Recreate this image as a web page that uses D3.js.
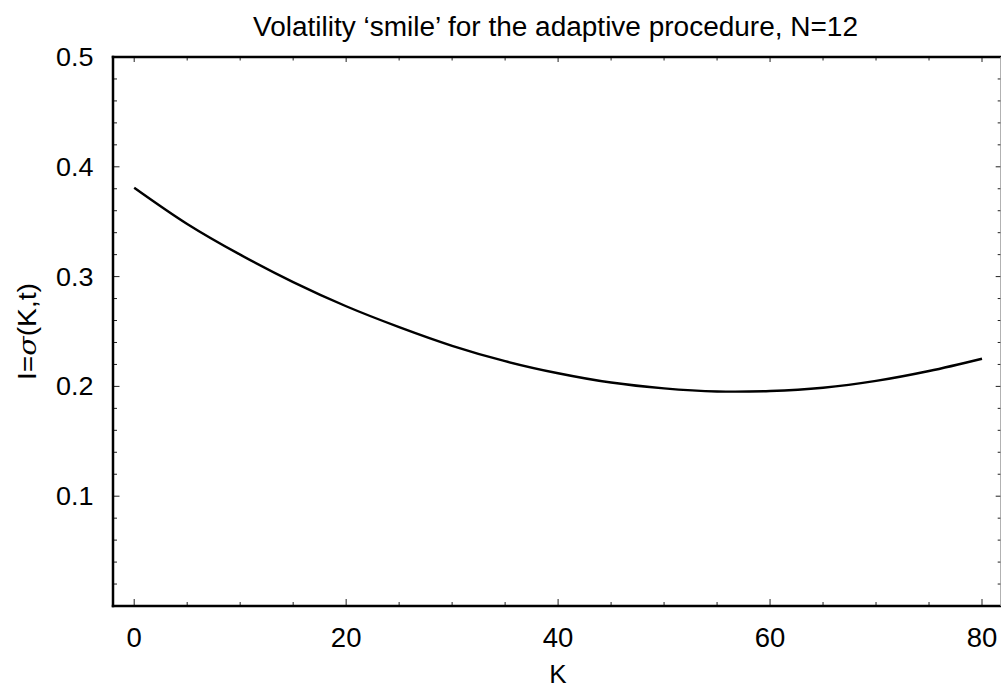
<!DOCTYPE html>
<html>
<head>
<meta charset="utf-8">
<script src="https://cdn.jsdelivr.net/npm/d3@7/dist/d3.min.js"></script>
<style>
  html, body { margin: 0; padding: 0; background: #fff; }
  svg { display: block; }
  text { font-family: "Liberation Sans", Arial, Helvetica, sans-serif; fill: #000; }
</style>
</head>
<body>
<svg id="chart" width="1001" height="690"></svg>
<script>
// ---- data ----
const strikes = [0, 5, 10, 15, 20, 25, 30, 35, 40, 45, 50, 55, 60, 65, 70, 75, 80];
const impliedVol = [0.381, 0.348, 0.320, 0.295, 0.273, 0.254, 0.237, 0.223, 0.212, 0.2035, 0.1982, 0.1954, 0.1958, 0.1988, 0.2050, 0.2140, 0.2252];
const xMajorTicks = [0, 20, 40, 60, 80];
const xMinorTicks = [5, 10, 15, 25, 30, 35, 45, 50, 55, 65, 70, 75];
const yMajorTicks = [0.1, 0.2, 0.3, 0.4, 0.5];
const yTickLabels = ["0.1", "0.2", "0.3", "0.4", "0.5"];
const yMinorTicks = [0.02, 0.04, 0.06, 0.08, 0.12, 0.14, 0.16, 0.18, 0.22, 0.24, 0.26, 0.28, 0.32, 0.34, 0.36, 0.38, 0.42, 0.44, 0.46, 0.48];
const titleText = "Volatility \u2018smile\u2019 for the adaptive procedure, N=12";
const xLabel = "K";

// ---- layout ----
const svg = d3.select("#chart");
const pL = 113, pT = 57, pB = 606, pR = 1003.2;
const x = d3.scaleLinear().domain([-2, 82]).range([pL, pR]);
const y = d3.scaleLinear().domain([0, 0.5]).range([pB, pT]);

// curve
const line = d3.line().x((d, i) => x(strikes[i])).y(d => y(d)).curve(d3.curveCatmullRom.alpha(0.5));
svg.append("path").datum(impliedVol).attr("d", line)
  .attr("fill", "none").attr("stroke", "#000").attr("stroke-width", 2.4);

// ticks
const tk = svg.append("g").attr("stroke", "#222").attr("stroke-width", 1);
xMajorTicks.forEach(v => {
  tk.append("line").attr("x1", x(v)).attr("x2", x(v)).attr("y1", pB).attr("y2", pB - 7);
  tk.append("line").attr("x1", x(v)).attr("x2", x(v)).attr("y1", pT).attr("y2", pT + 5);
});
xMinorTicks.forEach(v => {
  tk.append("line").attr("x1", x(v)).attr("x2", x(v)).attr("y1", pB).attr("y2", pB - 4);
  tk.append("line").attr("x1", x(v)).attr("x2", x(v)).attr("y1", pT).attr("y2", pT + 3.5);
});
yMajorTicks.forEach(v => {
  tk.append("line").attr("x1", pL).attr("x2", pL + 6.5).attr("y1", y(v)).attr("y2", y(v));
  tk.append("line").attr("x1", pR).attr("x2", pR - 7.5).attr("y1", y(v)).attr("y2", y(v));
});
yMinorTicks.forEach(v => {
  tk.append("line").attr("x1", pL).attr("x2", pL + 4).attr("y1", y(v)).attr("y2", y(v));
  tk.append("line").attr("x1", pR).attr("x2", pR - 5.5).attr("y1", y(v)).attr("y2", y(v));
});

// frame
const fr = svg.append("g").attr("stroke", "#000").attr("stroke-width", 2.5).attr("stroke-linecap", "square");
fr.append("line").attr("x1", pL).attr("x2", pL).attr("y1", pT).attr("y2", pB);
fr.append("line").attr("x1", pL).attr("x2", pR).attr("y1", pB).attr("y2", pB);
fr.append("line").attr("x1", pL).attr("x2", pR).attr("y1", pT).attr("y2", pT);
svg.append("line").attr("x1", 1001).attr("x2", 1001).attr("y1", pT).attr("y2", pB)
  .attr("stroke", "#999").attr("stroke-width", 1.5);

// tick labels
svg.append("g").selectAll("text").data(xMajorTicks).join("text")
  .attr("x", d => x(d)).attr("y", 647).attr("text-anchor", "middle")
  .attr("font-size", 27.5).text(d => d);
svg.append("g").selectAll("text").data(yMajorTicks).join("text")
  .attr("x", 93.5).attr("y", d => y(d) + 9).attr("text-anchor", "end")
  .attr("font-size", 26).attr("textLength", 37.5).attr("lengthAdjust", "spacingAndGlyphs")
  .text((d, i) => yTickLabels[i]);

// title
svg.append("text").attr("x", 555.5).attr("y", 36).attr("text-anchor", "middle")
  .attr("font-size", 27).attr("textLength", 605).attr("lengthAdjust", "spacingAndGlyphs")
  .text(titleText);

// x label
svg.append("text").attr("x", 558).attr("y", 683).attr("text-anchor", "middle")
  .attr("font-size", 26).text(xLabel);

// y label
const yl = svg.append("text").attr("transform", `translate(36,${(pT + pB) / 2}) rotate(-90)`)
  .attr("text-anchor", "middle").attr("font-size", 25)
  .attr("textLength", 97).attr("lengthAdjust", "spacingAndGlyphs");
yl.append("tspan").text("I=");
yl.append("tspan").attr("font-style", "italic").attr("font-family", "'DejaVu Serif', serif").text("\u03C3");
yl.append("tspan").text("(K,t)");
</script>
</body>
</html>
